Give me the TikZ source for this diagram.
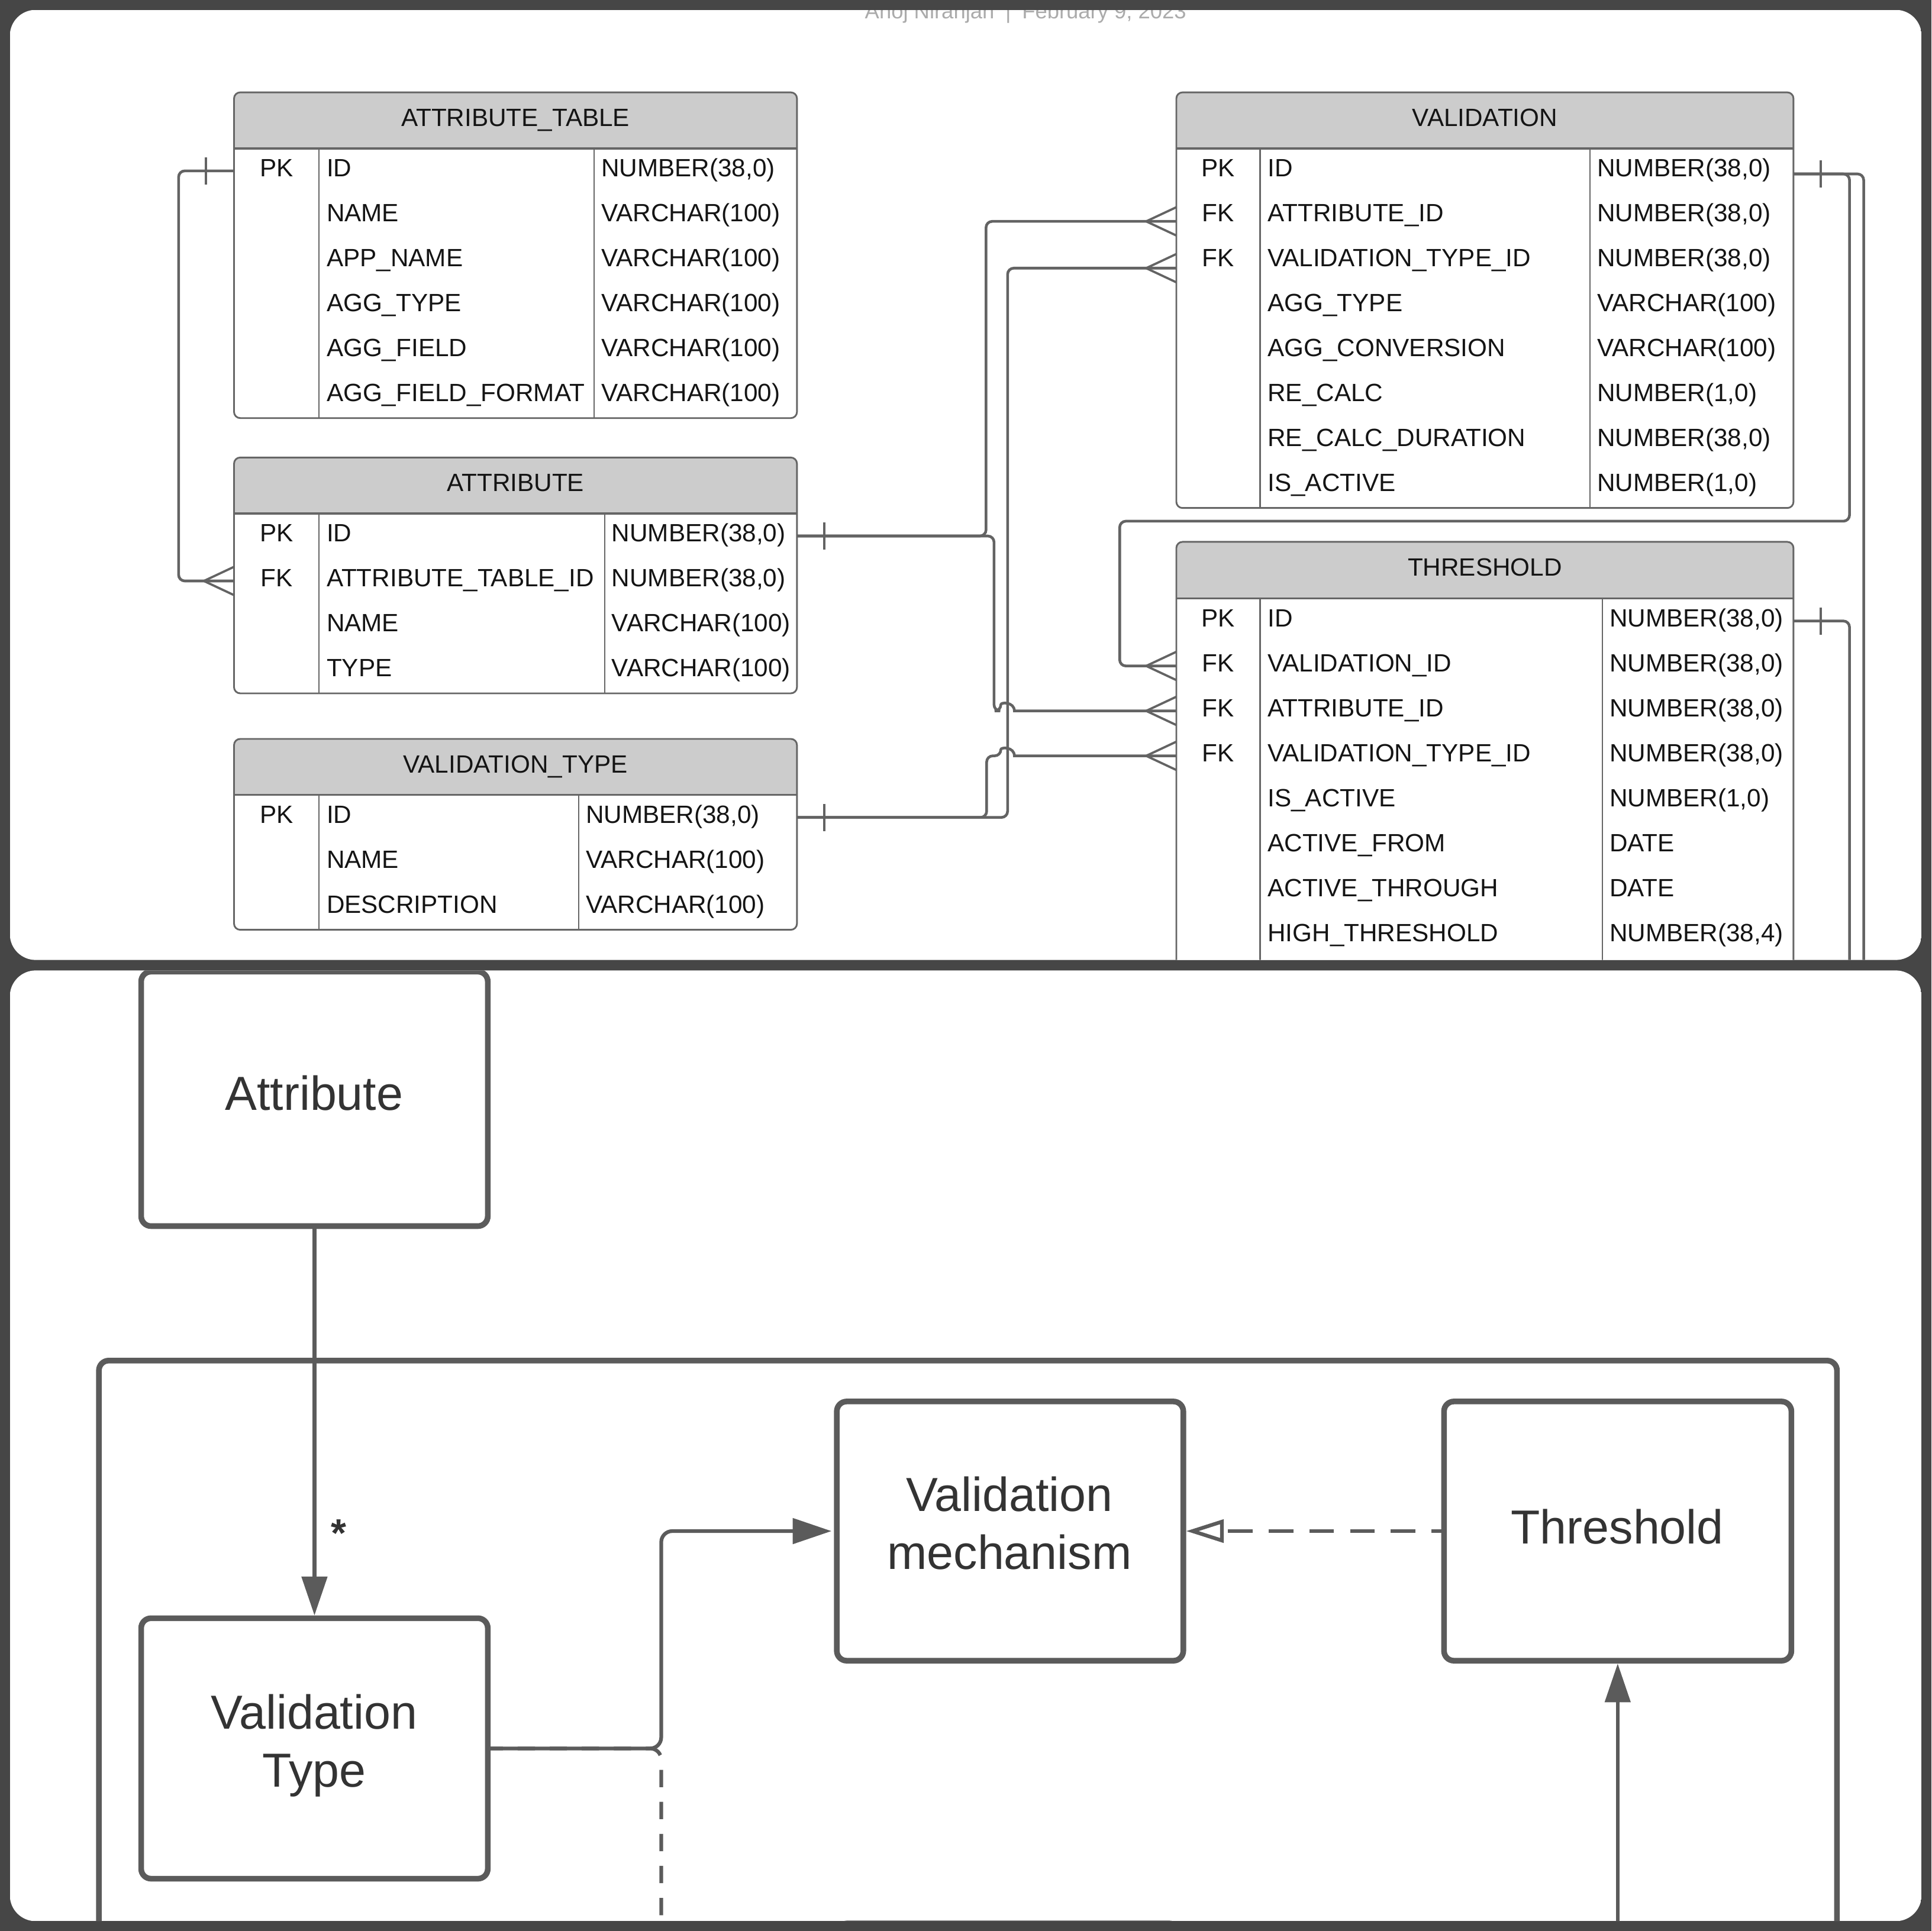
\documentclass[tikz,border=0pt]{standalone}
\usepackage{fontspec}
\setmainfont{Liberation Sans}
\usetikzlibrary{arrows.meta}
\definecolor{bgdark}{HTML}{464646}
\definecolor{hdrfill}{HTML}{CCCCCC}
\definecolor{erline}{HTML}{666666}
\definecolor{conn}{HTML}{636363}
\definecolor{boxline}{HTML}{5B5B5B}
\definecolor{ertxt}{HTML}{141414}
\definecolor{boxtxt}{HTML}{333333}
\definecolor{metatxt}{HTML}{ABABAB}
\newcommand\erfont{\fontsize{20.3pt}{24pt}\selectfont}
\newcommand\boxfont{\fontsize{38.8pt}{47pt}\selectfont}
\newcommand\metafont{\fontsize{17.5pt}{21pt}\selectfont}
\newcommand\starfont{\fontsize{32pt}{38pt}\selectfont\bfseries}
\tikzset{
  erframe/.style={draw=erline, line width=1.6pt},
  erdiv/.style={draw=erline, line width=1pt},
  ertab/.style={draw=erline, line width=1.4pt, rounded corners=5pt, inner sep=0pt, outer sep=0pt},
  ertitle/.style={anchor=base, inner sep=0pt, font=\erfont, text=ertxt},
  keytxt/.style={anchor=base, inner sep=0pt, font=\erfont, text=ertxt},
  celltxt/.style={anchor=base west, inner sep=0pt, font=\erfont, text=ertxt},
  rowbox/.style={draw=none, inner sep=0pt, outer sep=0pt, minimum height=36.5pt},
  connector/.style={draw=conn, line width=2.2pt, rounded corners=5pt},
  connmark/.style={draw=conn, line width=1.8pt},
  bbox/.style={draw=boxline, line width=4.6pt, rounded corners=8pt, fill=white, inner sep=0pt},
  btxt/.style={font=\boxfont, text=boxtxt, align=center, inner sep=0pt},
  arrowline/.style={draw=boxline, line width=3pt},
  filltip/.style={-{Triangle[length=31.5pt, width=20.5pt]}},
  opentip/.style={-{Triangle[open, length=30.5pt, width=18.5pt, fill=white]}},
}
% table frame: #1 id, #2 left, #3 top, #4 right, #5 header bottom, #6 bottom, #7 div1, #8 div2, #9 title
\newcommand\ertable[9]{%
  \begin{scope}
    \clip[rounded corners=5pt] (#2,#3) rectangle (#4,#6);
    \fill[white] (#2,#3) rectangle (#4,#6);
    \fill[hdrfill] (#2,#3) rectangle (#4,#5);
  \end{scope}
  \draw[erdiv] (#7,#5) -- (#7,#6) (#8,#5) -- (#8,#6);
  \draw[erframe] (#2,#5) -- (#4,#5);
  \node[ertab, minimum width={(#4-#2)*1pt}, minimum height={(#6-#3)*1pt}, anchor=north west] (#1) at (#2,#3) {};
  \node[ertitle] (#1-title) at ({(#2+#4)/2},{#3+27.7}) {#9};
}
% rows: #1 id, #2 left, #3 right, #4 header bottom, #5 key x, #6 name x, #7 type x, #8 list
\newcommand\errows[8]{%
  \foreach[count=\i from 0] \k/\n/\t in {#8}{%
    \node[rowbox, minimum width={(#3-#2)*1pt}] (#1-r\i) at ({(#2+#3)/2},{#4+18.25+36.5*\i}) {};
    \node[keytxt] (#1-k\i) at (#5,{#4+23+36.5*\i}) {\k};
    \node[celltxt] (#1-n\i) at (#6,{#4+23+36.5*\i}) {\n};
    \node[celltxt] (#1-t\i) at (#7,{#4+23+36.5*\i}) {\t};
  }%
}
\newcommand\barE[2]{\draw[connmark] ([xshift=22pt,yshift={#2pt+11pt}]#1) -- ([xshift=22pt,yshift={#2pt-11pt}]#1);}
\newcommand\barW[2]{\draw[connmark] ([xshift=-23pt,yshift={#2pt+11pt}]#1) -- ([xshift=-23pt,yshift={#2pt-11pt}]#1);}
\newcommand\crowW[2]{\draw[connmark] ([xshift=-24.5pt,yshift=#2pt]#1) -- ([yshift={#2pt+11.5pt}]#1) ([xshift=-24.5pt,yshift=#2pt]#1) -- ([yshift={#2pt-11.5pt}]#1);}
\begin{document}
\begin{tikzpicture}[x=1pt,y=-1pt]
\useasboundingbox (0,0) rectangle (1568,1568);
\fill[bgdark] (0,0) rectangle (1568,1568);
% ---------------- top panel ----------------
\begin{scope}
\clip[rounded corners=21pt] (8,8) rectangle (1560,779.5);
\fill[white] (8,8) rectangle (1560,779.5);
\node[anchor=base west, inner sep=0pt, font=\metafont, text=metatxt] (byline) at (702,15) {Anoj Niranjan\hspace{9pt}|\hspace{9pt}February 9, 2023};

\ertable{AT}{190}{75}{647}{120.5}{339.5}{259}{482.5}{ATTRIBUTE\_TABLE}
\errows{AT}{190}{647}{120.5}{224.5}{265}{488}{PK/ID/NUMBER(38{,}0), /NAME/VARCHAR(100), /APP\_NAME/VARCHAR(100), /AGG\_TYPE/VARCHAR(100), /AGG\_FIELD/VARCHAR(100), /AGG\_FIELD\_FORMAT/VARCHAR(100)}

\ertable{A}{190}{371.5}{647}{417}{563}{259}{491}{ATTRIBUTE}
\errows{A}{190}{647}{417}{224.5}{265}{496.5}{PK/ID/NUMBER(38{,}0), FK/ATTRIBUTE\_TABLE\_ID/NUMBER(38{,}0), /NAME/VARCHAR(100), /TYPE/VARCHAR(100)}

\ertable{VT}{190}{600}{647}{645.5}{755}{259}{470}{VALIDATION\_TYPE}
\errows{VT}{190}{647}{645.5}{224.5}{265}{475.5}{PK/ID/NUMBER(38{,}0), /NAME/VARCHAR(100), /DESCRIPTION/VARCHAR(100)}

\ertable{V}{955}{75}{1456}{120.5}{412.5}{1023}{1291}{VALIDATION}
\errows{V}{955}{1456}{120.5}{989}{1029}{1296.5}{PK/ID/NUMBER(38{,}0), FK/ATTRIBUTE\_ID/NUMBER(38{,}0), FK/VALIDATION\_TYPE\_ID/NUMBER(38{,}0), /AGG\_TYPE/VARCHAR(100), /AGG\_CONVERSION/VARCHAR(100), /RE\_CALC/NUMBER(1{,}0), /RE\_CALC\_DURATION/NUMBER(38{,}0), /IS\_ACTIVE/NUMBER(1{,}0)}

\ertable{Th}{955}{440}{1456}{486}{814.5}{1023}{1301}{THRESHOLD}
\errows{Th}{955}{1456}{486}{989}{1029}{1306.5}{PK/ID/NUMBER(38{,}0), FK/VALIDATION\_ID/NUMBER(38{,}0), FK/ATTRIBUTE\_ID/NUMBER(38{,}0), FK/VALIDATION\_TYPE\_ID/NUMBER(38{,}0), /IS\_ACTIVE/NUMBER(1{,}0), /ACTIVE\_FROM/DATE, /ACTIVE\_THROUGH/DATE, /HIGH\_THRESHOLD/NUMBER(38{,}4)}

\coordinate (vdown) at (1513,800);
\coordinate (tdown) at (1501.5,800);

% ATTRIBUTE_TABLE.ID -> ATTRIBUTE.ATTRIBUTE_TABLE_ID
\draw[connector] (AT-r0.west) -- ++(-45,0) |- (A-r1.west);
\barW{AT-r0.west}{0}
\crowW{A-r1.west}{0}
% ATTRIBUTE.ID -> VALIDATION.ATTRIBUTE_ID
\draw[connector] (A-r0.east) -- ++(153.5,0) |- ([yshift=-4.5pt]V-r1.west);
\crowW{V-r1.west}{-4.5}
% ATTRIBUTE.ID -> THRESHOLD.ATTRIBUTE_ID (hop over x=818)
\draw[connector] (A-r0.east) -- ++(160,0) |- (812.5,577.25) [sharp corners] .. controls (812.5,569.9) and (823.5,569.9) .. (823.5,577.25) -- (Th-r2.west);
\barE{A-r0.east}{0}
\crowW{Th-r2.west}{0}
% VALIDATION_TYPE.ID -> VALIDATION.VALIDATION_TYPE_ID
\draw[connector] (VT-r0.east) -- ++(171,0) |- ([yshift=-6pt]V-r2.west);
\crowW{V-r2.west}{-6}
% VALIDATION_TYPE.ID -> THRESHOLD.VALIDATION_TYPE_ID (hop over x=818)
\draw[connector] (VT-r0.east) -- ++(154,0) |- (812.5,613.75) [sharp corners] .. controls (812.5,606.4) and (823.5,606.4) .. (823.5,613.75) -- (Th-r3.west);
\barE{VT-r0.east}{0}
\crowW{Th-r3.west}{0}
% VALIDATION.ID -> THRESHOLD.VALIDATION_ID
\draw[connector] ([yshift=-2.5pt]V-r0.east) -| (1501.5,423.2) -| ([xshift=-46pt]Th-r1.west) -- (Th-r1.west);
\crowW{Th-r1.west}{0}
% VALIDATION.ID -> off panel
\draw[connector] ([yshift=-2.5pt]V-r0.east) -| (vdown);
\barE{V-r0.east}{-2.5}
% THRESHOLD.ID -> off panel
\draw[connector] (Th-r0.east) -| (tdown);
\barE{Th-r0.east}{0}
\end{scope}

% ---------------- bottom panel ----------------
\begin{scope}
\clip[rounded corners=21pt] (8,788) rectangle (1560,1560);
\fill[white] (8,788) rectangle (1560,1560);

\node[bbox, fill=none, minimum width=1411pt, minimum height=600pt, anchor=north west] (grp) at (78,1102.5) {};

\node[bbox, minimum width=281.4pt, minimum height=206.6pt] (attr) at (255.3,892.3) {};
\node[btxt] (attr-l) at (255,887.6) {Attribute};

\node[bbox, minimum width=281.4pt, minimum height=211.5pt] (vt) at (255.3,1419.75) {};
\node[btxt] (vt-l) at (255,1417.6) {Validation\\Type};

\node[bbox, minimum width=281.3pt, minimum height=210.5pt] (vm) at (820,1243.25) {};
\node[btxt] (vm-l) at (819.5,1236.7) {Validation\\mechanism};

\node[bbox, minimum width=282pt, minimum height=210.5pt] (th) at (1313.3,1243.25) {};
\node[btxt] (th-l) at (1313,1239.5) {Threshold};

\node[bbox, minimum width=277pt, minimum height=200pt, anchor=north] (low) at (818.5,1559.5) {};

\coordinate (vtdown) at (536.8,1600);
\coordinate (thup) at (1313.3,1600);

\draw[arrowline, filltip] (attr.south) -- (vt.north);
\node[anchor=base, inner sep=0pt, font=\starfont, text=boxtxt] (star) at (275,1256) {*};

\draw[arrowline, rounded corners=9pt, dash pattern=on 14pt off 12pt, dash phase=4pt] (vt.east) -- ++(138.5,0) -- (vtdown);
\draw[arrowline, rounded corners=9pt, filltip, shorten >=2pt] (vt.east) -- ++(138.5,0) |- (vm.west);
\draw[arrowline, dash pattern=on 20pt off 13pt, dash phase=12pt, opentip] (th.west) -- (vm.east);
\draw[arrowline, filltip] (thup) -- (th.south);
\end{scope}
\end{tikzpicture}
\end{document}
